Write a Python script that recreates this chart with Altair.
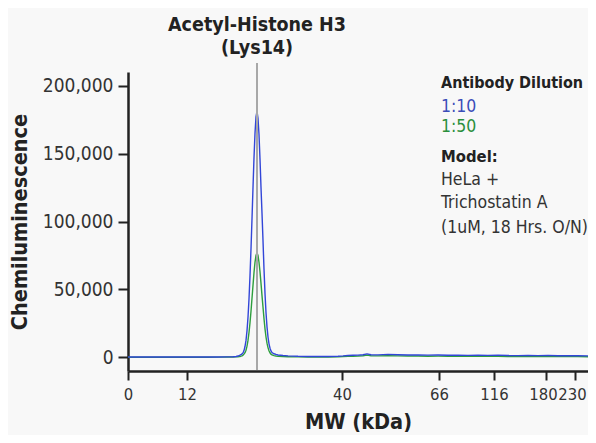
import altair as alt
import pandas as pd

# ---- data ----
mw_labels = ["0", "12", "40", "66", "116", "180", "230"]
tick_pos = [0, 59, 214, 311, 366, 418, 447]
y_ticks = [0, 50000, 100000, 150000, 200000]
peak_pos = [129]

x_pos = [0, 10, 20, 30, 40, 50, 60, 70, 80, 90, 100, 105, 108, 110, 111, 112, 113,
         114, 115, 116, 117, 118, 119, 120, 121, 122, 123, 124, 125, 126, 127, 128,
         129, 130, 131, 132, 133, 134, 135, 136, 137, 138, 139, 140, 141, 142, 143,
         144, 146, 148, 150, 155, 160, 170, 180, 190, 200, 210, 215, 220, 225, 230,
         235, 239, 243, 250, 260, 270, 280, 290, 300, 310, 320, 330, 340, 350, 360,
         370, 380, 390, 400, 410, 420, 430, 440, 450, 460]

blue = [300, 300, 250, 300, 300, 250, 300, 300, 300, 350, 400, 500, 700, 1000, 1300,
        1600, 2000, 2600, 3300, 5000, 8000, 12500, 19500, 29500, 43000, 60000, 80000,
        102000, 125000, 147000, 165000, 177000,
        181000, 176000, 164000, 146000, 125000, 106000, 86000, 65000, 47000, 33000,
        22500, 15000, 10000, 6800, 4800, 3600, 2700, 2200, 1800, 1400, 1100, 800, 700,
        650, 700, 900, 1100, 1400, 1600, 1700, 2000, 2600, 2000, 1900, 2200, 2000, 1800,
        1900, 1700, 1800, 1600, 1700, 1500, 1600, 1500, 1700, 1400, 1300, 1400, 1300,
        1500, 1200, 1300, 1200, 1100]

green = [150, 150, 100, 150, 150, 100, 150, 150, 150, 200, 250, 300, 400, 500, 600,
         700, 900, 1200, 1700, 2400, 3500, 5300, 8300, 12500, 18300, 25500, 34000,
         43500, 53000, 62500, 70000, 75000,
         77000, 75000, 70000, 63000, 54500, 45500, 37000, 28500, 21000, 15000, 10500,
         7200, 4900, 3400, 2400, 1800, 1300, 1000, 800, 600, 500, 400, 350, 300, 350,
         450, 600, 800, 900, 1000, 1200, 1700, 1200, 1100, 1200, 1100, 1000, 1000, 900,
         950, 850, 900, 800, 800, 750, 800, 700, 650, 700, 650, 700, 600, 600, 550, 500]

legend_lines = ["Antibody Dilution", "1:10", "1:50", "Model:", "HeLa +",
                "Trichostatin A", "(1uM, 18 Hrs. O/N)"]
legend_colors = ["#222222", "#3b4db8", "#2a8f3c", "#222222", "#333333", "#333333", "#333333"]
legend_weights = ["bold", "normal", "normal", "bold", "normal", "normal", "normal"]
legend_sizes = [16, 17.5, 17.5, 16.5, 17.5, 17.5, 17.5]
legend_y = [16, 40, 60, 90, 113, 136, 161]

title_lines = ["Acetyl-Histone H3", "(Lys14)"]

FONT = "DejaVu Sans Condensed, Roboto, sans-serif"
BLUE = "#3246d8"
GREEN = "#2e9e3e"

W, H = 460, 299

df_blue = pd.DataFrame({"pos": x_pos, "value": blue})
df_green = pd.DataFrame({"pos": x_pos, "value": green})

x_scale = alt.Scale(domain=[0, W], nice=False, zero=False)
y_scale = alt.Scale(domain=[-10000, 210000], nice=False, zero=False)

label_expr = ("[" + ",".join(f"'{l}'" for l in mw_labels) + "][indexof(["
              + ",".join(str(p) for p in tick_pos) + "], datum.value)]")
offset_expr = (f"datum.value == {tick_pos[-1]} ? -3 : "
               f"(datum.value == {tick_pos[-2]} ? -3 : 0)")

x_enc = alt.X("pos:Q", scale=x_scale,
              axis=alt.Axis(values=tick_pos, labelExpr=label_expr, title="MW (kDa)",
                            grid=False, tickSize=9, labelPadding=6, titlePadding=9,
                            labelFontSize=16.5, labelOffset={"expr": offset_expr},
                            labelFlush=False, labelOverlap=False))
y_enc = alt.Y("value:Q", scale=y_scale,
              axis=alt.Axis(values=y_ticks, format=",.0f", title="Chemiluminescence",
                            grid=False, tickSize=10, labelPadding=5, titlePadding=11))

green_line = alt.Chart(df_green).mark_line(color=GREEN, strokeWidth=1.4).encode(x=x_enc, y=y_enc)
blue_line = alt.Chart(df_blue).mark_line(color=BLUE, strokeWidth=1.4).encode(x="pos:Q", y="value:Q")

rule = alt.Chart(pd.DataFrame({"pos": peak_pos})).mark_rule(
    color="#a8a8a8", strokeWidth=2).encode(x="pos:Q", y=alt.value(-9), y2=alt.value(H - 1))

title_df = pd.DataFrame({"pos": peak_pos * 2, "t": title_lines, "yy": [-41, -18]})
title_txt = alt.Chart(title_df).mark_text(
    font=FONT, fontSize=19.5, fontWeight="bold", color="#222222", align="center",
    baseline="alphabetic").encode(x="pos:Q", y=alt.Y("yy:Q", scale=None), text="t:N")

leg_df = pd.DataFrame({"t": legend_lines, "yy": legend_y})
leg_layers = []
for i in range(len(legend_lines)):
    sub = leg_df.iloc[[i]]
    leg_layers.append(
        alt.Chart(sub).mark_text(font=FONT, fontSize=legend_sizes[i], fontWeight=legend_weights[i],
                                 color=legend_colors[i], align="left", baseline="alphabetic")
        .encode(x=alt.value(313), y=alt.Y("yy:Q", scale=None), text="t:N"))

chart = alt.layer(green_line, blue_line, rule, title_txt, *leg_layers).properties(
    width=W, height=H, background="#f8f8f8",
    padding={"left": 120, "top": 64, "right": 0, "bottom": 64},
    autosize=alt.AutoSizeParams(type="none"),
).configure_view(strokeWidth=0).configure_axis(
    domainColor="#222222", domainWidth=2.5, tickColor="#222222", tickWidth=2,
    labelFont=FONT, labelFontSize=19, labelColor="#333333",
    titleFont=FONT, titleFontSize=21.5, titleFontWeight="bold", titleColor="#222222",
)

chart.save("out.html", embed_options={"renderer": "svg", "actions": False})
